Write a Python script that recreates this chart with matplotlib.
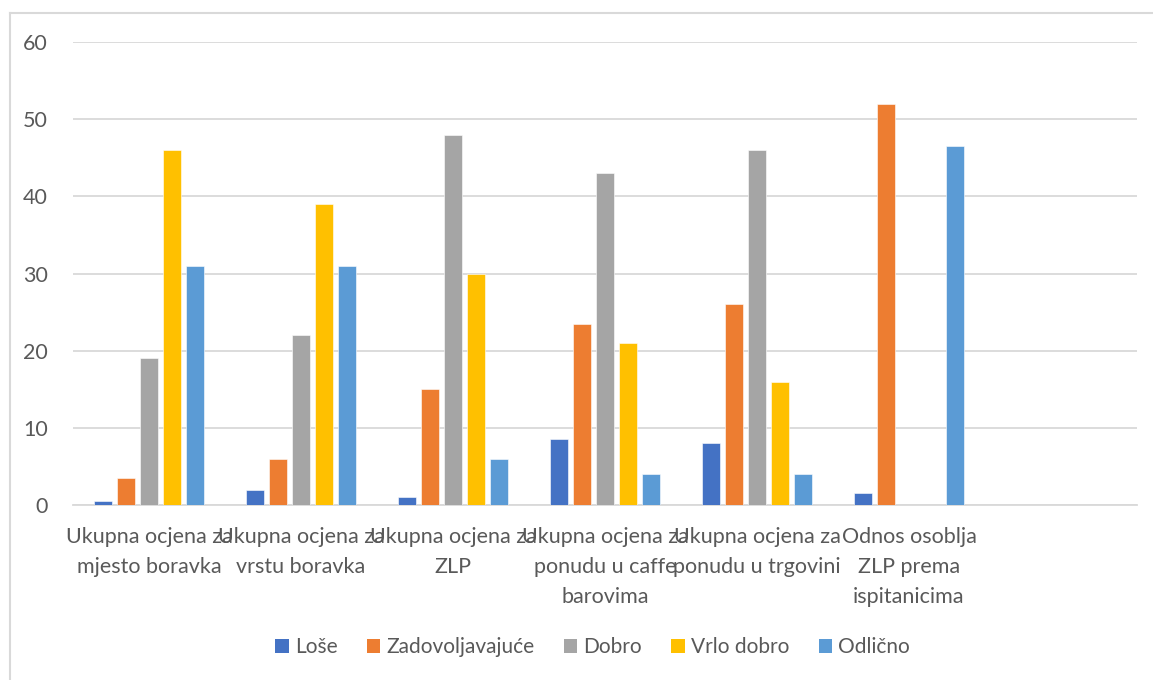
import matplotlib
matplotlib.use("Agg")
import matplotlib.pyplot as plt
from matplotlib.lines import Line2D
from matplotlib.patches import Patch
import numpy as np

categories = [
    "Ukupna ocjena za\nmjesto boravka",
    "Ukupna ocjena za\nvrstu boravka",
    "Ukupna ocjena za\nZLP",
    "Ukupna ocjena za\nponudu u caffe\nbarovima",
    "Ukupna ocjena za\nponudu u trgovini",
    "Odnos osoblja\nZLP prema\nispitanicima",
    "",
]
series_names = ["Loše", "Zadovoljavajuće", "Dobro", "Vrlo dobro", "Odlično"]
lose = [0.5, 2, 1, 8.5, 8, 1.5, 0]
zadovoljavajuce = [3.5, 6, 15, 23.5, 26, 52, 0]
dobro = [19, 22, 48, 43, 46, 0, 0]
vrlo_dobro = [46, 39, 30, 21, 16, 0, 0]
odlicno = [31, 31, 6, 4, 4, 46.5, 0]
yticks = [0, 10, 20, 30, 40, 50, 60]

colors = ["#4472C4", "#ED7D31", "#A5A5A5", "#FFC000", "#5B9BD5"]
series = [lose, zadovoljavajuce, dobro, vrlo_dobro, odlicno]

plt.rcParams["font.family"] = ["Lato", "DejaVu Sans"]
fig = plt.figure(figsize=(11.53, 6.8), dpi=100)
ax = fig.add_axes([73 / 1153, 1 - 505 / 680, (1137 - 73) / 1153, (505 - 42) / 680])

x = np.arange(len(categories))
pitch = 0.151
bw = 0.12
for i, (vals, c) in enumerate(zip(series, colors)):
    ax.bar(x + (i - 2) * pitch, vals, width=bw, color=c, zorder=3,
           edgecolor="white", linewidth=0.4)

ax.set_xlim(-0.5, len(categories) - 0.5)
ax.set_ylim(0, 60)
ax.set_yticks(yticks)
ax.grid(axis="y", color="#D9D9D9", linewidth=1.3, zorder=0)
ax.set_xticks(x)
ax.set_xticklabels(categories, fontsize=15.5, color="#595959", linespacing=1.62)
for s in ["top", "right", "left"]:
    ax.spines[s].set_visible(False)
ax.spines["bottom"].set_color("#D9D9D9")
ax.spines["bottom"].set_linewidth(1.3)
ax.tick_params(axis="both", length=0)
ax.tick_params(axis="x", pad=16)
ax.tick_params(axis="y", pad=18, labelsize=15.5, labelcolor="#595959")

handles = [Patch(facecolor=c, edgecolor="none") for c in colors]
fig.legend(handles, series_names, loc="center", bbox_to_anchor=(0.514, 1 - 647 / 680),
           ncol=5, frameon=False, fontsize=15, labelcolor="#595959",
           handlelength=0.65, handleheight=0.65, handletextpad=0.3, columnspacing=1.4)

# chart border (top and left visible)
fig.add_artist(Line2D([10.5 / 1153, 1.0], [1 - 13 / 680, 1 - 13 / 680],
                      transform=fig.transFigure, color="#D9D9D9", linewidth=1.5))
fig.add_artist(Line2D([10.5 / 1153, 10.5 / 1153], [0, 1 - 13 / 680],
                      transform=fig.transFigure, color="#D9D9D9", linewidth=1.5))

fig.savefig("out.png", dpi=100, facecolor="white")
